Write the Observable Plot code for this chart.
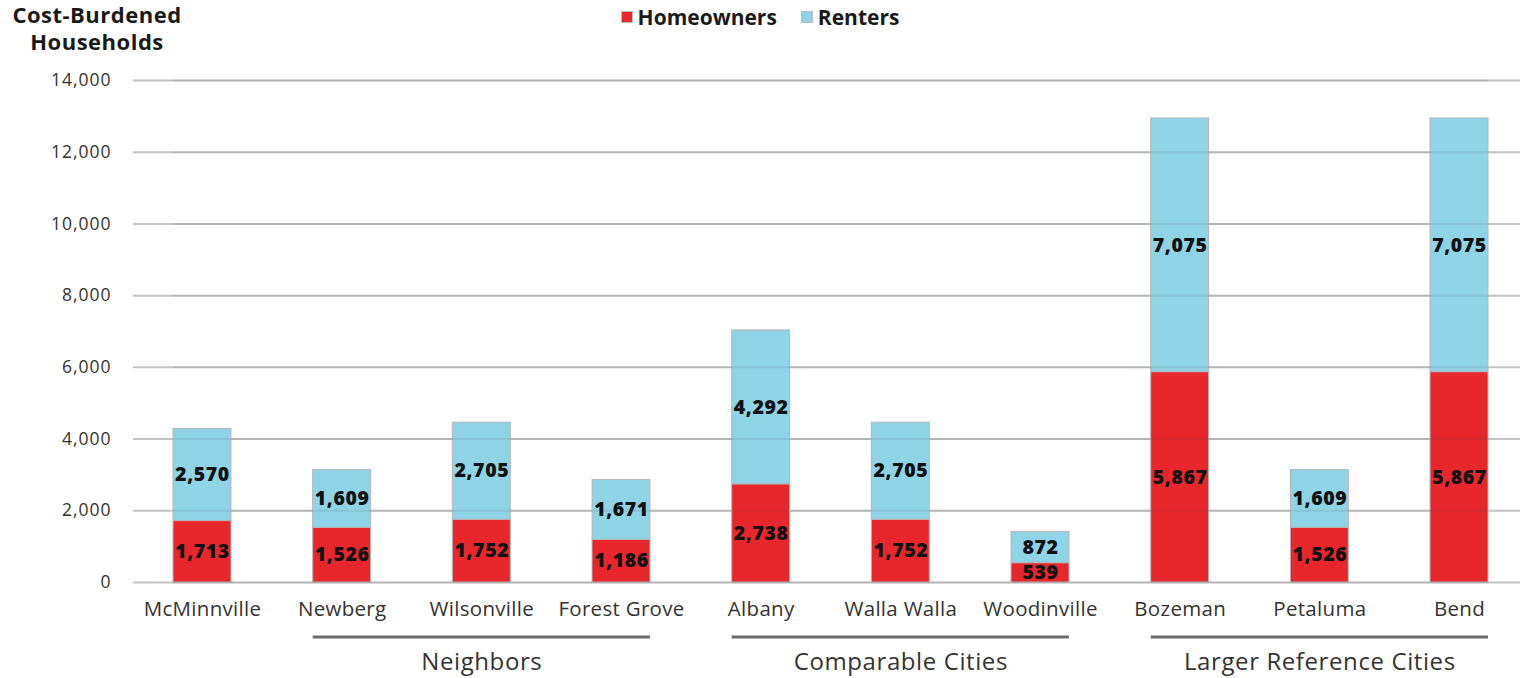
<!DOCTYPE html>
<html>
<head>
<meta charset="utf-8">
<script src="https://cdn.jsdelivr.net/npm/d3@7"></script>
<script src="https://cdn.jsdelivr.net/npm/@observablehq/plot@0.6"></script>
<style>
  html, body { margin: 0; padding: 0; background: #fff; }
  #wrap { position: relative; width: 1520px; height: 678px; font-family: "Open Sans", sans-serif; }
  #title { position: absolute; left: 0; width: 194px; top: 1px; text-align: center; font-weight: 700; font-size: 22px; line-height: 27px; letter-spacing: 0.5px; color: #1a1a1a; }
  #legend { position: absolute; left: 0; width: 1520px; top: 1px; text-align: center; font-weight: 700; font-size: 21px; color: #1a1a1a; padding-left: 0; }
  #legend span.item { display: inline-flex; align-items: center; margin: 0 12px; }
  #legend span.sw { display: inline-block; width: 10px; height: 10px; margin-right: 5px; }
  svg .vlab { letter-spacing: 0.6px; }
  svg .glab { letter-spacing: 0.6px; }
  svg .ylab { letter-spacing: 1px; }
  svg .xlab { letter-spacing: 0.3px; }
</style>
</head>
<body>
<div id="wrap">
  <div id="chart"></div>
  <div id="title">Cost-Burdened<br>Households</div>
  <div id="legend"></div>
</div>
<script>
const cities = ["McMinnville","Newberg","Wilsonville","Forest Grove","Albany","Walla Walla","Woodinville","Bozeman","Petaluma","Bend"];
const homeowners = [1713,1526,1752,1186,2738,1752,539,5867,1526,5867];
const renters = [2570,1609,2705,1671,4292,2705,872,7075,1609,7075];
const seriesNames = ["Homeowners","Renters"];
const seriesColors = ["#e8272d","#8fd3e6"];
const yTicks = [0,2000,4000,6000,8000,10000,12000,14000];
const groupNames = ["Neighbors","Comparable Cities","Larger Reference Cities"];
const groupFirst = ["Newberg","Albany","Bozeman"];
const groupLast = ["Forest Grove","Woodinville","Bend"];
const groupMid = ["Wilsonville","Walla Walla","Petaluma"];

const data = [];
cities.forEach((c, i) => {
  data.push({city: c, series: "Homeowners", value: homeowners[i]});
  data.push({city: c, series: "Renters", value: renters[i]});
});
const groups = groupNames.map((g, i) => ({name: g, first: groupFirst[i], last: groupLast[i], mid: groupMid[i]}));

const fmt = d3.format(",");
const plot = Plot.plot({
  width: 1520,
  height: 678,
  marginTop: 80,
  marginBottom: 96,
  marginLeft: 173,
  marginRight: 32,
  style: {fontFamily: "'Open Sans', sans-serif", color: "#333", background: "transparent"},
  x: {domain: cities, paddingInner: 0.585, paddingOuter: 0, round: false, label: null},
  y: {domain: [0, 14000], label: null},
  color: {domain: seriesNames, range: seriesColors},
  marks: [
    Plot.ruleY(yTicks, {stroke: "#c3c3c3", strokeWidth: 2, insetLeft: -40, insetRight: -32}),
    Plot.barY(data, Plot.stackY({x: "city", y: "value", z: "series", fill: "series", stroke: "#b5b5b5", strokeWidth: 1, order: seriesNames})),
    Plot.ruleY(yTicks, {stroke: "#555", strokeOpacity: 0.12, strokeWidth: 2}),
    Plot.text(data, Plot.stackY({x: "city", y: "value", z: "series", text: d => fmt(d.value), order: seriesNames, fill: "#111", fontWeight: 800, fontSize: 19.5, className: "vlab"})),
    Plot.axisY({ticks: yTicks, tickSize: 0, tickPadding: 62, tickFormat: d3.format(","), fontSize: 17.5, fill: "#333", className: "ylab"}),
    Plot.axisX({tickSize: 0, tickPadding: 19, fontSize: 20.5, fill: "#333", className: "xlab"}),
    Plot.text(groups, {x: "mid", text: "name", frameAnchor: "bottom", dy: 80, fontSize: 24, fill: "#333", lineAnchor: "middle", className: "glab"})
  ]
});
document.getElementById("chart").appendChild(plot);

// group underline rules using the plot's own x band scale
const xs = plot.scale("x");
const svg = d3.select(plot);
const y0 = 582 + 55;
svg.append("g").selectAll("line").data(groups).join("line")
  .attr("x1", d => xs.apply(d.first))
  .attr("x2", d => xs.apply(d.last) + xs.bandwidth)
  .attr("y1", y0).attr("y2", y0)
  .attr("stroke", "#6b6b6b").attr("stroke-width", 3);

// legend
const lg = d3.select("#legend");
seriesNames.forEach((s, i) => {
  const it = lg.append("span").attr("class", "item");
  it.append("span").attr("class", "sw").style("background", seriesColors[i]).style("border", "1px solid #bbb");
  it.append("span").text(s);
});
</script>
</body>
</html>
